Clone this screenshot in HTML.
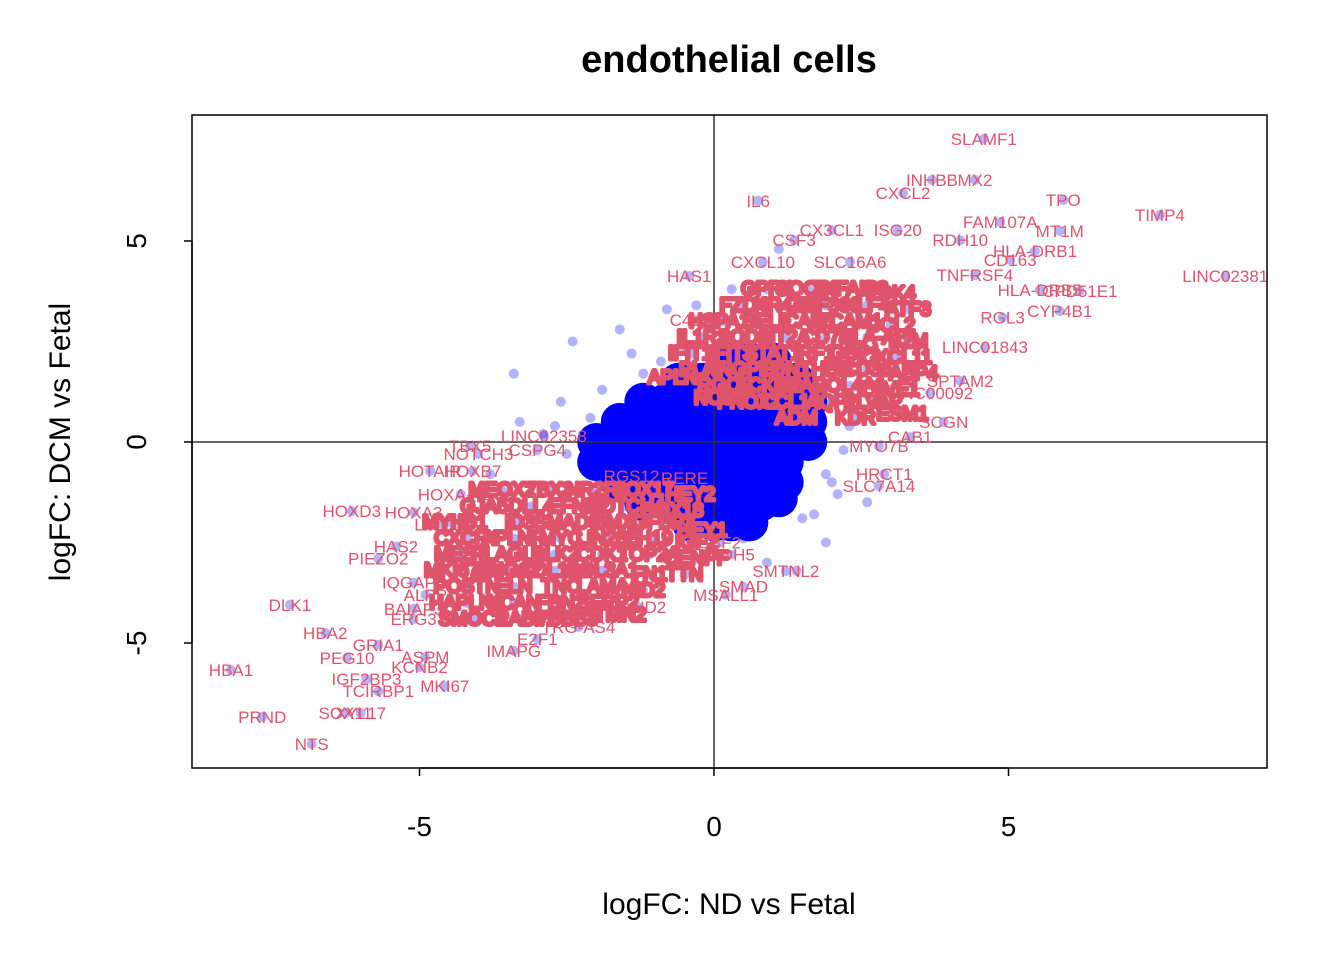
<!DOCTYPE html>
<html><head><meta charset="utf-8"><style>
html,body{margin:0;padding:0;background:#fff;}
svg{display:block;font-family:"Liberation Sans",Arial,sans-serif;}
</style></head><body>
<svg id="chart" width="1344" height="960" viewBox="0 0 1344 960" xmlns="http://www.w3.org/2000/svg">
<text x="729" y="72" text-anchor="middle" font-size="38" font-weight="bold">endothelial cells</text>
<text x="729" y="914" text-anchor="middle" font-size="30">logFC: ND vs Fetal</text>
<text transform="translate(70,442) rotate(-90)" text-anchor="middle" font-size="30">logFC: DCM vs Fetal</text>
<defs><clipPath id="clip"><rect x="192" y="115" width="1075" height="653"/></clipPath></defs>
<g id="pts" clip-path="url(#clip)"></g>
<g id="ref"></g>
<g id="lbl" clip-path="url(#clip)"></g>
<rect x="192" y="115" width="1075" height="653" fill="none" stroke="#000" stroke-width="1.5"/>
<g id="axes"></g>
</svg>
<script>
const xTicks=[-5,0,5];
const yTicks=[-5,0,5];
const coreX=[0.2,0.6,1.0,-0.6,-0.2,0.2,0.6,1.0,1.4,-1.2,-0.8,-0.4,0,0.4,0.8,1.2,1.6,-1.6,-1.2,-0.8,-0.4,0,0.4,0.8,1.2,1.6,-2,-1.6,-1.2,-0.8,-0.4,0,0.4,0.8,1.2,1.6,-2,-1.6,-1.2,-0.8,-0.4,0,0.4,0.8,1.2,-1.6,-1.2,-0.8,-0.4,0,0.4,0.8,-1.2,-0.8,-0.4,0,0.4,-0.4,0,0.3,1.2,0.8,1.1,0.6];
const coreY=[2,2,2,1.5,1.5,1.5,1.5,1.5,1.5,1,1,1,1,1,1,1,1,0.5,0.5,0.5,0.5,0.5,0.5,0.5,0.5,0.5,0,0,0,0,0,0,0,0,0,0,-0.5,-0.5,-0.5,-0.5,-0.5,-0.5,-0.5,-0.5,-0.5,-1,-1,-1,-1,-1,-1,-1,-1.5,-1.5,-1.5,-1.5,-1.5,-2,-2,-2,-1.0,-1.5,-1.4,-2.0];
const outX=[-1.6,-2.4,-1.2,-3.4,-2.9,-2.6,-2.2,-1.8,2.1,2.6,1.9,1.4,2.3,0.3,-0.8,-0.3,1.9,-2.5,-3.3,-3.8,-1.1,0.5,1.7,2.2,-0.5,-1.4,0.9,1.1,2.8,-0.9,-1.9,-2.1,-2.7,0.1,1.5,2.0];
const outY=[2.8,2.5,1.7,1.7,0.2,1.0,-0.6,-1.2,-1.3,-1.5,-2.5,-3.2,0.4,3.8,3.3,3.4,-0.8,-0.3,0.5,-0.8,-2.0,-2.4,-1.8,-0.2,2.4,2.2,-3.0,4.8,0.9,2.0,1.3,0.6,0.4,3.0,-1.9,-1.0];
const genes=["SLAMF1","INHBB","MX2","CXCL2","IL6","TPO","TIMP4","FAM107A","MT1M","CX3CL1","ISG20","CSF3","RDH10","HLA-DRB1","CXCL10","SLC16A6","CD163","HAS1","LINC02381","TNFRSF4","HLA-DRB5","CPD51E1","CYP4B1","C4orf3","RGL3","LINC01843","SPTAM2","LINC00092","CAB1","MYO7B","HRCT1","SLC7A14","SMTNL2","SCGN","LINC02358","TBX5","NOTCH3","CSPG4","HOTAIR","HOXB7","RGS12","RERE","HOXA-AS3","HOXD3","HOXA3","LINC01","PIEZO2","HAS2","IQGAP3","DLK1","HBA2","BAIAP3","HBA1","PEG10","GRIA1","ASPM","KCNB2","E2F1","MKI67","IGF2BP3","TCIRBP1","SOX11","XYL17","PRND","NTS","MSALL1","HAND2","TRG-AS4","IMAPG","SBF2","ALPP","ERG3","CDH5","SMAD"];
const geneX=[4.58,3.70,4.43,3.21,0.75,5.93,7.57,4.86,5.87,2.0,3.12,1.36,4.18,5.45,0.83,2.31,5.03,-0.42,8.68,4.43,5.53,6.21,5.87,-0.32,4.9,4.6,4.18,3.67,3.33,2.8,2.89,2.8,1.22,3.9,-2.89,-4.14,-4.0,-3.0,-4.82,-4.1,-1.4,-0.5,-4.3,-6.15,-5.1,-4.6,-5.7,-5.4,-5.1,-7.2,-6.6,-5.1,-8.2,-6.23,-5.7,-4.9,-5.0,-3.0,-4.57,-5.9,-5.7,-6.26,-6.0,-7.67,-6.83,0.2,-1.3,-2.3,-3.4,0.1,-4.9,-5.1,0.3,0.5];
const geneY=[7.54,6.52,6.52,6.19,6.0,6.02,5.65,5.47,5.25,5.27,5.27,5.02,5.02,4.75,4.48,4.48,4.53,4.13,4.13,4.15,3.78,3.76,3.26,3.03,3.1,2.36,1.52,1.22,0.12,-0.1,-0.8,-1.09,-3.21,0.5,0.15,-0.1,-0.3,-0.2,-0.72,-0.72,-0.85,-0.9,-1.3,-1.72,-1.75,-2.05,-2.9,-2.6,-3.5,-4.05,-4.75,-4.15,-5.67,-5.37,-5.05,-5.35,-5.6,-4.9,-6.07,-5.9,-6.2,-6.74,-6.74,-6.84,-7.51,-3.8,-4.1,-4.6,-5.2,-2.5,-3.8,-4.4,-2.8,-3.6];
const upNames=["GPR4","SOCS3","TNFAIP3","PDK4","FZD4","NR4A1","ZNF366","KLF4","ATF3","HSPA1A","SELE","ICAM1","VCAM1","CCL2","IL1R1","SOD2","MT2A","CD74","HLA-A","B2M","IFIT1","IFIT3","STAT1","IRF1","GBP1","CXCL11","PLAT","ANGPT2","EDN1","THBD","CD36","FABP4","RGCC","ACKR1","SPARC","COL4A1","LYVE1","PROX1","CCL14","AQP1","PLVAP","ESM1","APLN","NOS3","ADM","KDR"];
const upX=[0.9,1.6,2.3,3.0,0.5,1.2,1.9,2.6,3.3,0.2,0.9,1.6,2.3,3.0,-0.2,0.5,1.2,1.9,2.6,3.3,-0.4,0.3,1.0,1.7,2.4,3.1,-0.2,0.5,1.2,1.9,2.6,3.3,0.2,0.9,1.6,2.3,3.0,0.6,1.3,2.0,2.7,3.2,-0.7,0.1,1.4,2.4];
const upY=[3.8,3.8,3.8,3.7,3.4,3.4,3.4,3.4,3.3,3.0,3.0,3.0,3.0,2.9,2.6,2.6,2.6,2.6,2.6,2.5,2.2,2.2,2.2,2.2,2.2,2.1,1.8,1.8,1.8,1.8,1.8,1.7,1.4,1.4,1.4,1.4,1.3,1.0,1.0,1.0,1.0,0.7,1.6,1.1,0.6,0.6];
const dnNames=["MEOX2","TBX3","NR2F2","SOX17","HEY2","GJA5","DLL4","EFNB2","NOTCH4","SOX18","ID1","ID3","SMAD6","BMX","IGFBP3","HEY1","CXCR4","APLNR","MYC","LIN28B","H19","IGF2","MEST","PLAGL1","DLK2","CDK1","TOP2A","CENPF","MKI67IP","HMGA2","COL1A1","COL3A1","FN1","POSTN","ELN","TNC","LAMA4","NID2","HAPLN1","VCAN","FBN2","SFRP2","SMOC1","CRABP2","TUBB3","STMN2","TTN","MYH6"];
const dnX=[-3.6,-2.8,-2.0,-1.2,-0.4,-3.9,-3.1,-2.3,-1.5,-0.7,-4.1,-3.3,-2.5,-1.7,-0.9,-0.2,-4.2,-3.4,-2.6,-1.8,-1.0,-0.3,-4.3,-3.5,-2.7,-1.9,-1.1,-0.3,-4.3,-3.5,-2.7,-1.9,-1.1,-4.2,-3.4,-2.6,-1.8,-1.2,-4.2,-3.4,-2.6,-1.8,-4.1,-3.3,-2.5,-1.7,-0.5,-4.5];
const dnY=[-1.2,-1.2,-1.2,-1.2,-1.3,-1.6,-1.6,-1.6,-1.6,-1.7,-2.0,-2.0,-2.0,-2.0,-2.0,-2.2,-2.4,-2.4,-2.4,-2.4,-2.4,-2.5,-2.8,-2.8,-2.8,-2.8,-2.8,-2.9,-3.2,-3.2,-3.2,-3.2,-3.3,-3.6,-3.6,-3.6,-3.6,-3.7,-4.0,-4.0,-4.0,-4.0,-4.4,-4.4,-4.4,-4.3,-3.3,-2.0];

const NS="http://www.w3.org/2000/svg";
const X0=192,X1=1267,Y0=115,Y1=768;
function sx(v){return 714+v*58.9;}
function sy(v){return 442-v*40.2;}
const pts=document.getElementById('pts'),lbl=document.getElementById('lbl'),axes=document.getElementById('axes'),ref=document.getElementById('ref');
function circ(x,y,r,fill,op,name){const c=document.createElementNS(NS,'circle');c.setAttribute('cx',sx(x));c.setAttribute('cy',sy(y));c.setAttribute('r',r);c.setAttribute('fill',fill);c.setAttribute('fill-opacity',op);


pts.appendChild(c);}
function label(t,x,y,name,bold){const e=document.createElementNS(NS,'text');e.setAttribute('x',sx(x));e.setAttribute('y',sy(y)+6);e.setAttribute('text-anchor','middle');e.setAttribute('font-size',bold?'19':'17');e.setAttribute('fill','#DF536B');
if(bold){e.setAttribute('stroke','#DF536B');e.setAttribute('stroke-width','4');e.setAttribute('stroke-linejoin','round');}
e.textContent=t;


lbl.appendChild(e);}
for(let i=0;i<outX.length;i++)circ(outX[i],outY[i],5,'#0000ff',0.3,'outlier-point');
for(let i=0;i<coreX.length;i++)circ(coreX[i],coreY[i],19,'#0000ff',1,'core-point');
for(let i=0;i<geneX.length;i++)circ(geneX[i],geneY[i],5,'#0000ff',0.3,'gene-point');
for(let i=0;i<upX.length;i++)circ(upX[i],upY[i],5,'#0000ff',0.3,'up-point');
for(let i=0;i<dnX.length;i++)circ(dnX[i],dnY[i],5,'#0000ff',0.3,'down-point');
for(let i=0;i<upX.length;i++)label(upNames[i],upX[i],upY[i],'up-gene-label',true);
for(let i=0;i<dnX.length;i++)label(dnNames[i],dnX[i],dnY[i],'down-gene-label',true);
for(let i=0;i<geneX.length;i++)label(genes[i],geneX[i],geneY[i],'gene-label',false);
function line(x1,y1,x2,y2,p,w,c,name){const l=document.createElementNS(NS,'line');l.setAttribute('x1',x1);l.setAttribute('y1',y1);l.setAttribute('x2',x2);l.setAttribute('y2',y2);l.setAttribute('stroke',c);l.setAttribute('stroke-width',w);


p.appendChild(l);}
line(sx(0),Y0,sx(0),Y1,ref,1.5,'#333','vertical-zero-line');
line(X0,sy(0),X1,sy(0),ref,1.5,'#333','horizontal-zero-line');
line(sx(xTicks[0]),Y1,sx(xTicks[xTicks.length-1]),Y1,axes,1.5,'#000','x-axis-line');
line(X0,sy(yTicks[0]),X0,sy(yTicks[yTicks.length-1]),axes,1.5,'#000','y-axis-line');
for(const t of xTicks){line(sx(t),Y1,sx(t),Y1+8,axes,1.5,'#000','x-tick');
const e=document.createElementNS(NS,'text');e.setAttribute('x',sx(t));e.setAttribute('y',836);e.setAttribute('text-anchor','middle');e.setAttribute('font-size','28');e.textContent=t;


axes.appendChild(e);}
for(const t of yTicks){line(X0-8,sy(t),X0,sy(t),axes,1.5,'#000','y-tick');
const e=document.createElementNS(NS,'text');e.setAttribute('text-anchor','middle');e.setAttribute('font-size','28');e.setAttribute('transform','translate(146,'+sy(t)+') rotate(-90)');e.textContent=t;


axes.appendChild(e);}
</script>
</body></html>
